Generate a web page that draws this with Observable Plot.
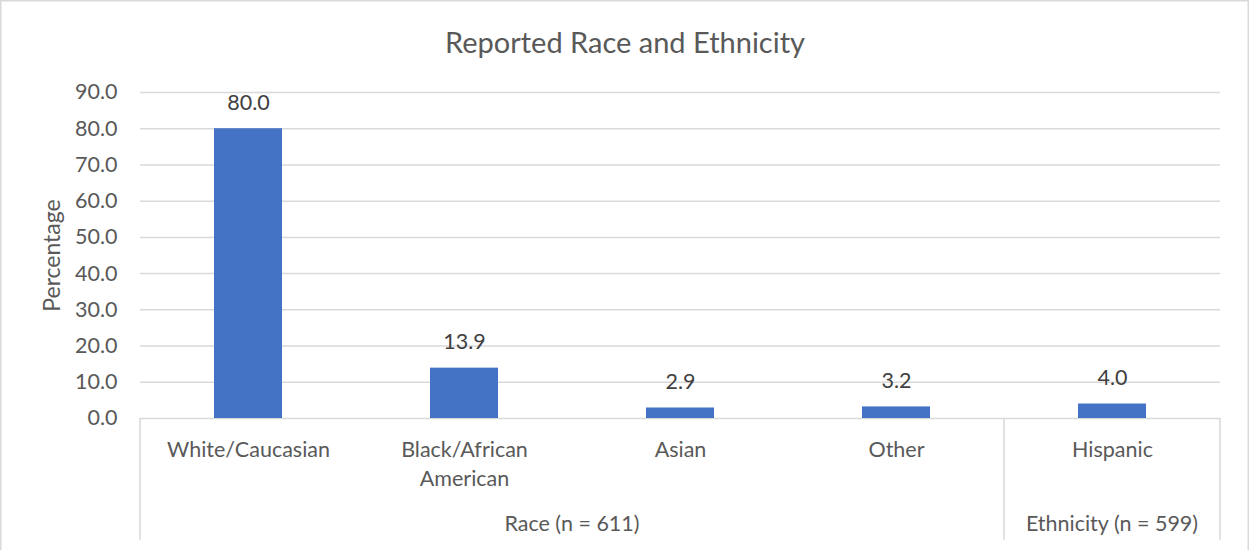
<!DOCTYPE html>
<html>
<head>
<meta charset="utf-8">
<script src="https://cdn.jsdelivr.net/npm/d3@7"></script>
<script src="https://cdn.jsdelivr.net/npm/@observablehq/plot@0.6"></script>
<style>
  html, body { margin: 0; padding: 0; background: #fff; }
  #chart svg { display: block; }
</style>
</head>
<body>
<div id="chart"></div>
<script>
// Reported race and ethnicity shares (%)
const categories = ["White/Caucasian", "Black/African American", "Asian", "Other", "Hispanic"];
const percentages = [80.0, 13.9, 2.9, 3.2, 4.0];
const categoryLabels = ["White/Caucasian", "Black/African\nAmerican", "Asian", "Other", "Hispanic"];
const groupNames = ["Race (n = 611)", "Ethnicity (n = 599)"];
const groupMembers = [
  ["White/Caucasian", "Black/African American", "Asian", "Other"],
  ["Hispanic"]
];
const yTicks = [0, 10, 20, 30, 40, 50, 60, 70, 80, 90];
const title = "Reported Race and Ethnicity";
const yLabel = "Percentage";

const rows = categories.map((c, i) => ({category: c, value: percentages[i]}));
const labelOf = new Map(categories.map((c, i) => [c, categoryLabels[i]]));

const textColor = "#595959";
const gridColor = "#d9d9d9";
const barColor = "#4472c4";
const font = "Lato, 'Open Sans', sans-serif";
const pad = 0.685;
const W = 1249, H = 550, ML = 140, MR = 29, MT = 92, MB = 132;
const fs = 21.5;

const chart = Plot.plot({
  width: W,
  height: H,
  marginLeft: ML,
  marginRight: MR,
  marginTop: MT,
  marginBottom: MB,
  style: {fontFamily: font, fontSize: fs + "px", color: textColor, background: "#fff"},
  x: {domain: categories, paddingInner: pad, paddingOuter: pad / 2, align: 0.5},
  y: {domain: [0, 90], ticks: yTicks},
  marks: [
    Plot.gridY(yTicks, {stroke: gridColor, strokeOpacity: 1, strokeWidth: 1.5}),
    Plot.axisY(yTicks, {
      tickSize: 0, tickPadding: 23, tickFormat: d => d.toFixed(1),
      fontSize: fs, fill: textColor, label: null
    }),
    Plot.axisX({
      tickSize: 0, tickPadding: 18, fontSize: fs, fill: textColor,
      tickFormat: d => labelOf.get(d), label: null, lineHeight: 1.35
    }),
    Plot.barY(rows, {x: "category", y: "value", fill: barColor}),
    Plot.text(rows, {
      x: "category", y: "value", text: d => d.value.toFixed(1),
      dy: -26, fontSize: fs, fill: "#404040"
    }),
    Plot.text([yLabel], {
      frameAnchor: "left", textAnchor: "middle", dx: -88, rotate: -90, fontSize: 23, fill: textColor
    }),
    Plot.text([title], {
      frameAnchor: "top", dx: -(ML - MR) / 2, dy: -60, fontSize: 29, fill: textColor
    })
  ]
});

// Group brackets under the category axis: separators at group edges plus group captions
const svg = d3.select(chart);
const xs = chart.scale("x");
const step = xs.step, bw = xs.bandwidth;
const edgeLeft = c => xs.apply(c) - (step - bw) / 2;
const edgeRight = c => xs.apply(c) + bw + (step - bw) / 2;
const yBase = chart.scale("y").apply(0);
const yEnd = 540;
const g = svg.append("g");
const edges = new Set();
groupMembers.forEach(m => { edges.add(edgeLeft(m[0])); edges.add(edgeRight(m[m.length - 1])); });
for (const ex of edges) {
  g.append("line").attr("x1", ex).attr("x2", ex).attr("y1", yBase).attr("y2", yEnd)
    .attr("stroke", gridColor).attr("stroke-width", 1.5);
}
groupMembers.forEach((m, i) => {
  const cx = (edgeLeft(m[0]) + edgeRight(m[m.length - 1])) / 2;
  g.append("text").attr("x", cx).attr("y", 523).attr("dy", "0.35em")
    .attr("text-anchor", "middle").attr("fill", textColor)
    .style("font-size", fs + "px").text(groupNames[i]);
});
// chart border
svg.append("rect").attr("x", 0.75).attr("y", 0.75).attr("width", W - 1.5).attr("height", H + 10)
  .attr("fill", "none").attr("stroke", gridColor).attr("stroke-width", 1.5);

document.getElementById("chart").appendChild(chart);
</script>
</body>
</html>
